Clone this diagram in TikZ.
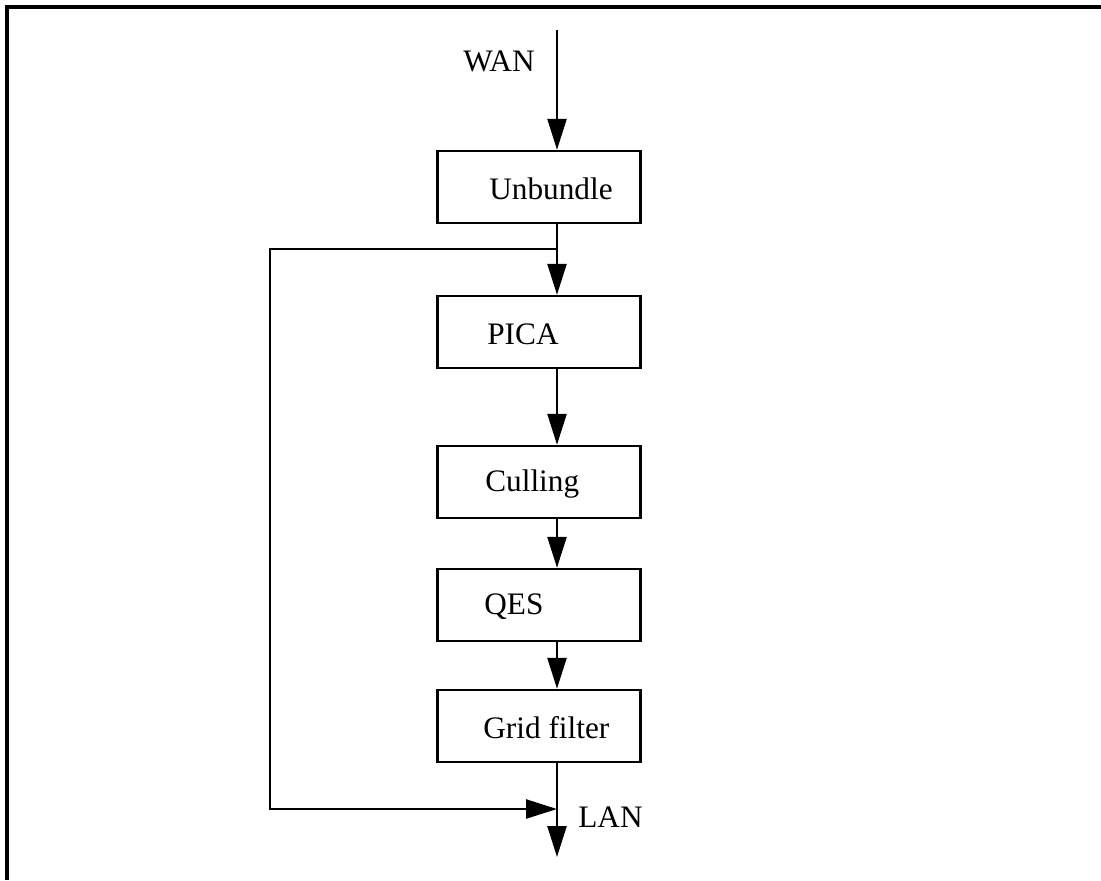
\documentclass[tikz,border=0pt]{standalone}
\usepackage{fontspec}
\setmainfont{Liberation Serif}
\usepackage{tikz}
\usetikzlibrary{arrows.meta}

\tikzset{
  stage/.style={draw, rectangle, line width=1.4pt, minimum width=4.06cm, minimum height=1.44cm},
  stagetext/.style={anchor=west, inner sep=0pt, font=\fontsize{17.8}{21}\selectfont},
  flow/.style={line width=1.4pt, -{Triangle[length=0.62cm,width=0.38cm]}},
}

\begin{document}
\begin{tikzpicture}[x=0.02cm, y=-0.02cm]
        \useasboundingbox (0,0) rectangle (1101,880);
        % frame (only top and left edges are in view)
        \draw[line width=2.2pt] (1101,7) -- (7,7) -- (7,880);

        \coordinate (wanin) at (557,30);
        \coordinate (lanout) at (557,857);

        \node[stage] (unbundle) at (539,187) {};
        \node[stage] (pica) at (539,332) {};
        \node[stage] (culling) at (539,482) {};
        \node[stage] (qes) at (539,605) {};
        \node[stage] (grid) at (539,726) {};

        \node[stagetext] (unbundletxt) at (489,189) {Unbundle};
        \node[stagetext] (picatxt) at (487,334) {PICA};
        \node[stagetext] (cullingtxt) at (485,484) {Culling};
        \node[stagetext] (qestxt) at (484,607) {QES};
        \node[stagetext] (gridtxt) at (483,728) {Grid filter};

        \node[stagetext, anchor=center] (wan) at (499,61) {WAN};
        \node[stagetext] (lan) at (578,817) {LAN};

        \coordinate (split) at (557,249);
        \coordinate (fbcorner) at (270,249);
        \coordinate (merge) at (557,809);

        \draw[flow] (wanin) -- (unbundle.north -| wanin);
        \draw[flow] (unbundle.south -| wanin) -- (pica.north -| wanin);
        \draw[flow] (pica.south -| wanin) -- (culling.north -| wanin);
        \draw[flow] (culling.south -| wanin) -- (qes.north -| wanin);
        \draw[flow] (qes.south -| wanin) -- (grid.north -| wanin);
        \draw[flow] (grid.south -| wanin) -- (lanout);

        % bypass around the processing chain
        \draw[flow] (split) -- (fbcorner) |- (merge);
    \end{tikzpicture}
\end{document}
